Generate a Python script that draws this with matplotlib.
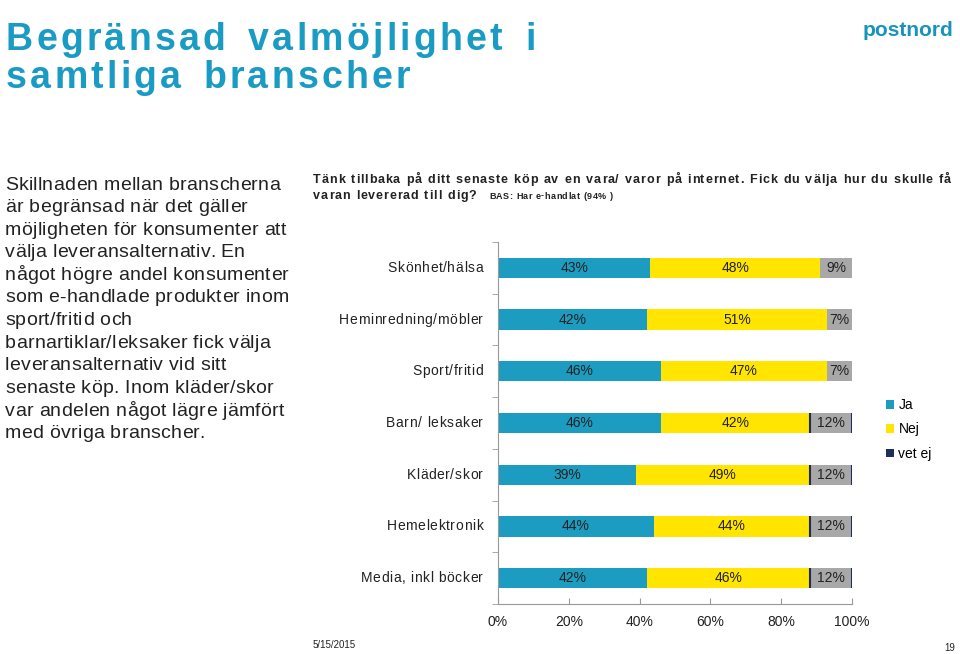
import numpy as np
import matplotlib.pyplot as plt
from matplotlib.font_manager import FontProperties

plt.rcParams['font.family'] = ['Liberation Sans', 'DejaVu Sans']

## Data
categories = ["Skönhet/hälsa", "Heminredning/möbler", "Sport/fritid", "Barn/ leksaker",
              "Kläder/skor", "Hemelektronik", "Media, inkl böcker"]
ja = [43, 42, 46, 46, 39, 44, 42]
nej = [48, 51, 47, 42, 49, 44, 46]
vet_ej = [9, 7, 7, 12, 12, 12, 12]
xticks = [0, 20, 40, 60, 80, 100]

title_lines = ["Begränsad valmöjlighet i", "samtliga branscher"]
left_lines = ["Skillnaden mellan branscherna", "är begränsad när det gäller",
              "möjligheten för konsumenter att", "välja leveransalternativ. En",
              "något högre andel konsumenter", "som e-handlade produkter inom",
              "sport/fritid och", "barnartiklar/leksaker fick välja",
              "leveransalternativ vid sitt", "senaste köp. Inom kläder/skor",
              "var andelen något lägre jämfört", "med övriga branscher."]
question = ["Tänk tillbaka på ditt senaste köp av en vara/ varor på internet. Fick du välja hur du skulle få",
            "varan levererad till dig?"]
bas_text = "BAS: Har e-handlat (94% )"

blue = '#1c9cc0'
yellow = '#ffe500'
grey = '#a8a8a8'
navy = '#1f2d5c'
teal = '#1a9bc4'
txt = '#222222'

fig = plt.figure(figsize=(9.6, 6.54), dpi=100)
W, H = 960, 654
renderer = fig.canvas.get_renderer()


def text_w(s, prop):
    # width in pixels, measured with a trailing 'H' so spaces count
    w1 = renderer.get_text_width_height_descent(s + "H", prop, ismath=False)[0]
    w2 = renderer.get_text_width_height_descent("H", prop, ismath=False)[0]
    return w1 - w2


def spaced(x, y, s, size, track=0.0, word=0.0, weight='normal', color=txt, ha='left', target=None):
    # draw text letter by letter with extra tracking / word spacing (pixels),
    # x/y in pixels from top-left
    prop = FontProperties(family='Liberation Sans', size=size, weight=weight)
    pos = [text_w(s[:i], prop) for i in range(len(s) + 1)]
    nsp = s.count(' ')
    if target is not None:
        track = (target - pos[-1] - word * nsp) / max(len(s) - 1, 1)
    total = pos[-1] + track * (len(s) - 1) + word * nsp
    x0 = x - total if ha == 'right' else x
    extra = 0.0
    for i, ch in enumerate(s):
        if ch == ' ':
            extra += word
            continue
        fig.text((x0 + pos[i] + i * track + extra) / W, 1 - y / H, ch, fontproperties=prop,
                 color=color, va='center', ha='left')
    return track


# title + logo
spaced(6, 40, title_lines[0], 27, track=3.2, word=6, weight='bold', color=teal)
spaced(6, 78, title_lines[1], 27, track=3.2, word=6, weight='bold', color=teal)
fig.text(908/W, 1 - 30/H, "postnord", color='#1794bd', fontsize=15, fontweight='bold',
         ha='center', va='center')

# left description
tr = spaced(5, 185, left_lines[0], 14, target=275)
for i, line in enumerate(left_lines[1:], start=1):
    spaced(5, 185 + i*22.6, line, 14, track=tr)

# question
tr = spaced(313, 180, question[0], 9, weight='bold', word=1, target=638)
spaced(313, 196, question[1], 9, weight='bold', word=1, track=tr)
spaced(489, 196, bas_text, 6.5, weight='bold', track=0.5)

## Chart
ax = fig.add_axes([498/W, 1 - 604/H, (852-498)/W, (604-242)/H])
y = np.arange(len(categories))
ja_a = np.array(ja)
nej_a = np.array(nej)
vet_a = np.array(vet_ej)
h = 0.39
ax.barh(y, ja_a, height=h, color=blue, label="Ja")
ax.barh(y, nej_a, left=ja_a, height=h, color=yellow, label="Nej")
ax.barh(y, vet_a, left=ja_a + nej_a, height=h, color=grey)
# thin dark edges on the larger "vet ej" segments
big = vet_a >= 10
ax.vlines((ja_a + nej_a)[big], y[big] - h/2, y[big] + h/2, colors=navy, lw=1.5)
ax.vlines((ja_a + nej_a + vet_a)[big], y[big] - h/2, y[big] + h/2, colors=navy, lw=1.5)
ax.barh([-5], [0], color=navy, label="vet ej")

for i in range(len(categories)):
    ax.text(ja_a[i]/2, y[i], f"{ja[i]}%", ha='center', va='center', fontsize=10, color=txt)
    ax.text(ja_a[i] + nej_a[i]/2, y[i], f"{nej[i]}%", ha='center', va='center', fontsize=10, color=txt)
    ax.text(ja_a[i] + nej_a[i] + vet_a[i]/2, y[i], f"{vet_ej[i]}%", ha='center', va='center',
            fontsize=10, color=txt)

ax.set_xlim(0, 100)
ax.set_ylim(len(categories) - 0.5, -0.5)
ax.set_yticks(y)
ax.set_yticklabels([])
ax.set_yticks(np.arange(len(categories) + 1) - 0.5, minor=True)
ax.tick_params(axis='y', which='major', length=0)
ax.tick_params(axis='y', which='minor', length=4, color='#999999')
ax.set_xticks(xticks)
ax.set_xticklabels([f"{t}%" for t in xticks], fontsize=10, color=txt)
ax.tick_params(axis='x', direction='in', length=4, color='#999999', pad=8)
for s in ['top', 'right']:
    ax.spines[s].set_visible(False)
ax.spines['left'].set_color('#999999')
ax.spines['bottom'].set_color('#999999')

# category labels, right aligned left of the axis
y0_px, y1_px = 268, 578
for i, cat in enumerate(categories):
    spaced(483, y0_px + i * (y1_px - y0_px) / (len(categories) - 1), cat, 10, track=0.6, ha='right')

ax.legend(loc='upper left', bbox_to_anchor=(886/W, 1 - 398/H), bbox_transform=fig.transFigure,
          frameon=False, fontsize=10, handlelength=0.6, handleheight=0.6,
          handletextpad=0.3, labelspacing=0.75, borderpad=0, borderaxespad=0)

# footer
fig.text(313/W, 1 - 645/H, "5/15/2015", fontsize=7, va='center', color=txt)
fig.text(950/W, 1 - 648/H, "19", fontsize=7, va='center', ha='center', color=txt)

fig.savefig("out.png", dpi=100)
